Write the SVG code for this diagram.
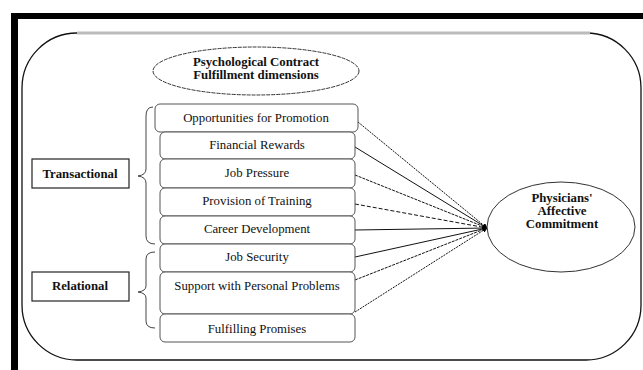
<svg xmlns="http://www.w3.org/2000/svg" width="643" height="370" viewBox="0 0 643 370">
<style>
.t{font-family:"Liberation Serif","Times New Roman",serif;font-size:12.8px;fill:#111;text-anchor:middle}
.b{font-weight:bold}
.box{fill:#fff;stroke:#555;stroke-width:1}
.lab{fill:#fff;stroke:#222;stroke-width:1.2}
.br{fill:none;stroke:#444;stroke-width:1}
.c{fill:none;stroke:#111;stroke-width:1;marker-end:url(#ah)}
.ell{fill:#fff;stroke:#333;stroke-width:1;stroke-dasharray:4 1}
</style>
<defs>
<marker id="ah" viewBox="0 0 10 10" refX="9" refY="5" markerWidth="5" markerHeight="5" orient="auto" markerUnits="userSpaceOnUse">
<path d="M0,0 L10,5 L0,10 z" fill="#000"/>
</marker>
</defs>
<rect x="0" y="0" width="643" height="370" fill="#fff"/>
<g id="frame">
<rect x="11" y="13" width="632" height="6" fill="#000"/>
<rect x="11" y="13" width="7" height="357" fill="#000"/>
<rect x="22" y="33" width="619" height="327" rx="55" ry="55" fill="none" stroke="#111" stroke-width="1.3"/>
<line x1="77" y1="33" x2="590" y2="33" stroke="#bbb" stroke-width="3"/>
</g>
<g id="connectors">
<line class="c" x1="358" y1="122" x2="487" y2="228" stroke-dasharray="2 1"/>
<line class="c" x1="355" y1="147" x2="487" y2="228"/>
<line class="c" x1="355" y1="175" x2="487" y2="228" stroke-dasharray="3 1"/>
<line class="c" x1="355" y1="204" x2="487" y2="228" stroke-dasharray="4 2"/>
<line class="c" x1="355" y1="230" x2="487" y2="228" stroke-width="1.4"/>
<line class="c" x1="355" y1="257" x2="487" y2="228"/>
<line class="c" x1="355" y1="280" x2="487" y2="228" stroke-dasharray="3 1"/>
<line class="c" x1="355" y1="312" x2="487" y2="228" stroke-dasharray="2 1"/>
</g>
<g id="psych">
<ellipse class="ell" cx="256" cy="71" rx="103" ry="24"/>
<text class="t b" x="256" y="66" font-size="10.5">Psychological Contract</text>
<text class="t b" x="256" y="79" font-size="10.5">Fulfillment dimensions</text>
</g>
<g id="opp"><rect class="box" x="155" y="104" width="203" height="28" rx="5" stroke="#222"/><text class="t" x="256" y="122">Opportunities for Promotion</text></g>
<g id="fin"><rect class="box" x="160" y="132" width="195" height="27" rx="5"/><text class="t" x="257" y="149">Financial Rewards</text></g>
<g id="job"><rect class="box" x="160" y="159" width="195" height="29" rx="5" stroke="#333"/><text class="t" x="257" y="177">Job Pressure</text></g>
<g id="prov"><rect class="box" x="160" y="188" width="195" height="28" rx="5"/><text class="t" x="257" y="205">Provision of Training</text></g>
<g id="career"><rect class="box" x="160" y="216" width="195" height="28" rx="5" stroke="#222"/><text class="t" x="257" y="233">Career Development</text></g>
<g id="security"><rect class="box" x="160" y="244" width="195" height="28" rx="5"/><text class="t" x="257" y="261">Job Security</text></g>
<g id="support"><rect class="box" x="160" y="272" width="195" height="42" rx="5"/><text class="t" x="257" y="290">Support with Personal Problems</text></g>
<g id="fulfil"><rect class="box" x="160" y="314" width="195" height="28" rx="5"/><text class="t" x="257" y="333">Fulfilling Promises</text></g>
<g id="transactional">
<rect class="lab" x="32" y="159" width="97" height="29"/>
<text class="t b" x="80" y="178" font-size="12.3">Transactional</text>
<path class="br" d="M153,107 Q146,107 146,116 L146,169 Q146,175 138,176 Q146,177 146,183 L146,236 Q146,244 155,244"/>
</g>
<g id="relational">
<rect class="lab" x="32" y="272" width="97" height="29"/>
<text class="t b" x="80" y="290" font-size="12.3">Relational</text>
<path class="br" d="M155,252 Q146,252 146,259 L146,286 Q146,291 138,292 Q146,293 146,298 L146,321 Q146,328 155,328"/>
</g>
<g id="affective">
<ellipse cx="561" cy="227" rx="74" ry="45" fill="#fff" stroke="#333" stroke-width="1"/>
<text class="t b" x="562" y="202" font-size="12">Physicians'</text>
<text class="t b" x="562" y="215" font-size="12">Affective</text>
<text class="t b" x="562" y="228" font-size="12">Commitment</text>
</g>
</svg>
